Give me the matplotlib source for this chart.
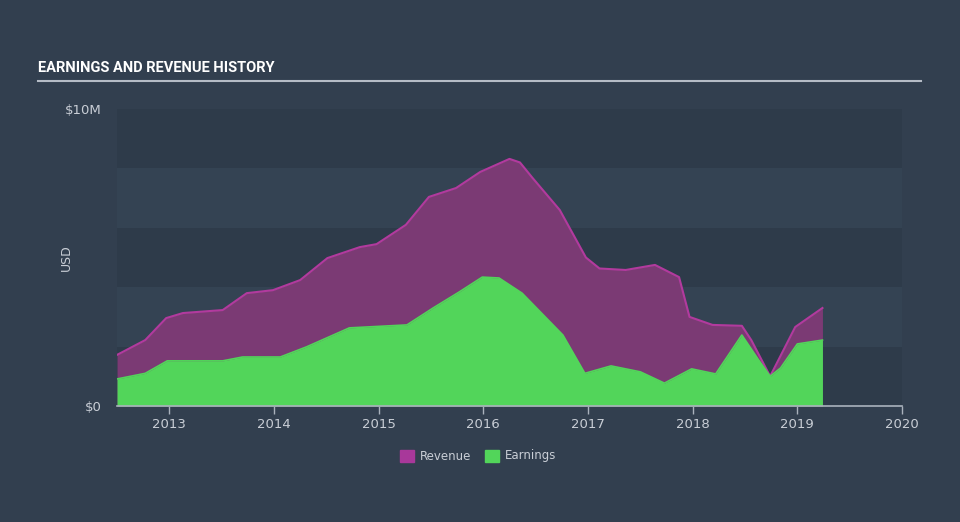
import matplotlib
matplotlib.use("Agg")
import matplotlib.pyplot as plt
from matplotlib.patches import Rectangle

# ---- data ----
rev_years = [2012.50, 2012.77, 2012.97, 2013.13, 2013.51, 2013.74, 2013.99, 2014.25,
             2014.51, 2014.82, 2014.98, 2015.26, 2015.48, 2015.74, 2015.97, 2016.25,
             2016.35, 2016.47, 2016.73, 2016.98, 2017.11, 2017.36, 2017.64, 2017.87,
             2017.97, 2018.19, 2018.47, 2018.56, 2018.74, 2018.98, 2019.24]
revenue = [1.72, 2.22, 2.96, 3.13, 3.23, 3.80, 3.90, 4.24,
           4.98, 5.35, 5.45, 6.10, 7.04, 7.34, 7.88, 8.32,
           8.20, 7.68, 6.60, 5.00, 4.63, 4.58, 4.75, 4.34,
           3.00, 2.73, 2.70, 2.22, 1.00, 2.66, 3.30]

earn_years = [2012.50, 2012.77, 2012.98, 2013.51, 2013.70, 2014.06, 2014.31, 2014.72,
              2015.27, 2015.52, 2015.77, 2015.99, 2016.15, 2016.37, 2016.76, 2016.97,
              2017.22, 2017.50, 2017.73, 2017.99, 2018.22, 2018.47, 2018.63, 2018.74,
              2018.84, 2019.00, 2019.24]
earnings = [0.91, 1.10, 1.52, 1.52, 1.65, 1.65, 1.99, 2.63,
            2.73, 3.30, 3.84, 4.34, 4.31, 3.80, 2.39, 1.10,
            1.35, 1.15, 0.77, 1.25, 1.08, 2.39, 1.55, 1.00,
            1.28, 2.09, 2.22]

x_ticks = [2013, 2014, 2015, 2016, 2017, 2018, 2019, 2020]
y_tick_vals = [0, 10]
y_tick_labels = ["$0", "$10M"]

# ---- styling ----
BG = "#323f4f"
BAND_DARK = "#2e3b4a"
BAND_LIGHT = "#344353"
REV_FILL = "#7b3a74"
REV_LINE = "#b23a9e"
EARN = "#52d55a"
TXT = "#c9ced6"

fig = plt.figure(figsize=(9.6, 5.22), dpi=100, facecolor=BG)
ax = fig.add_axes([117/960, 116/522, 785/960, 297/522])
ax.set_facecolor(BG)
ax.set_xlim(2012.5, 2020)
ax.set_ylim(0, 10)

# alternating horizontal bands
for i, lo in enumerate(range(0, 10, 2)):
    col = BAND_DARK if i % 2 == 0 else BAND_LIGHT
    ax.axhspan(lo, lo + 2, color=col, lw=0, zorder=0)

ax.fill_between(rev_years, revenue, 0, color=REV_FILL, lw=0, zorder=2)
ax.plot(rev_years, revenue, color=REV_LINE, lw=1.5, zorder=3)
ax.fill_between(earn_years, earnings, 0, color=EARN, lw=0, zorder=4)
ax.plot(earn_years, earnings, color=EARN, lw=1.2, zorder=5)

for s in ["top", "right", "left"]:
    ax.spines[s].set_visible(False)
ax.spines["bottom"].set_color("#aab2bd")
ax.spines["bottom"].set_linewidth(1.2)
ax.spines["bottom"].set_zorder(6)

ax.set_xticks(x_ticks)
ax.set_xticklabels([str(t) for t in x_ticks])
ax.tick_params(axis="x", colors="#aab2bd", labelcolor=TXT, length=6, width=1, labelsize=9.5, pad=3)
ax.set_yticks(y_tick_vals)
ax.set_yticklabels(y_tick_labels)
ax.tick_params(axis="y", length=0, labelcolor=TXT, labelsize=9.5, pad=11)
ax.set_ylabel("USD", color=TXT, fontsize=9)
ax.yaxis.set_label_coords((73 - 117) / 785, 0.5)

# title and underline
fig.text(38/960, 1 - 68/522, "EARNINGS AND REVENUE HISTORY", color="white",
         fontsize=10.5, fontweight="bold", family="Roboto", va="center", ha="left")
fig.add_artist(plt.Line2D([38/960, 921/960], [1 - 81/522, 1 - 81/522],
                          color="#b5bcc6", lw=1.5, transform=fig.transFigure))

# legend
leg_y = 1 - 456/522
fig.add_artist(Rectangle((400/960, leg_y - 6/522), 14/960, 12/522, color="#a8389a",
                         transform=fig.transFigure))
fig.text(420/960, leg_y, "Revenue", color=TXT, fontsize=8.5, va="center", ha="left")
fig.add_artist(Rectangle((485/960, leg_y - 6/522), 14/960, 12/522, color=EARN,
                         transform=fig.transFigure))
fig.text(505/960, leg_y, "Earnings", color=TXT, fontsize=8.5, va="center", ha="left")

fig.savefig("out.png", dpi=100, facecolor=BG)
